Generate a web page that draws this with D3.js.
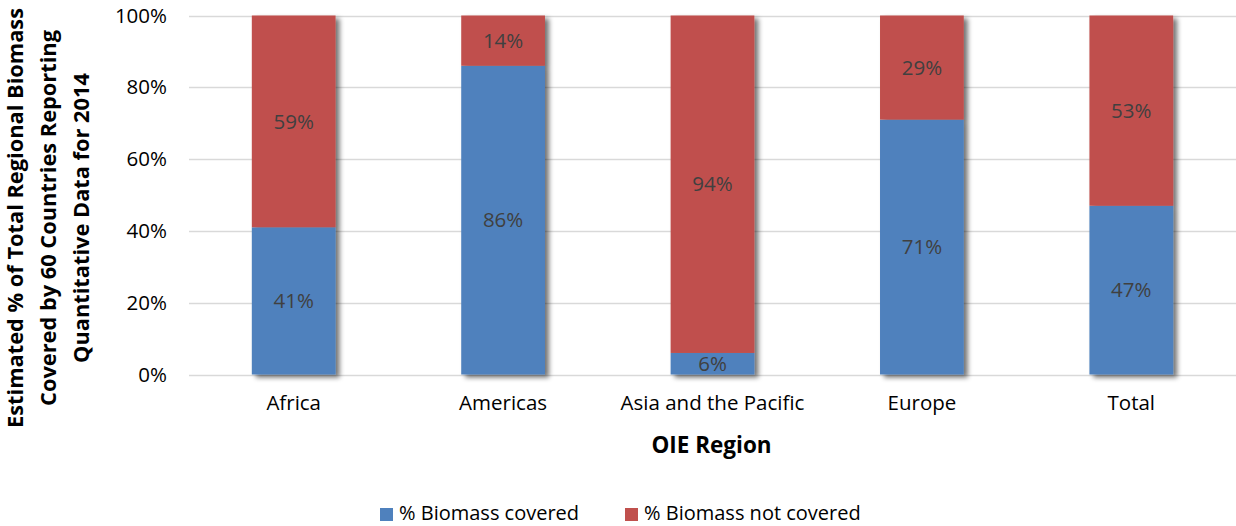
<!DOCTYPE html>
<html>
<head>
<meta charset="utf-8">
<script src="https://cdn.jsdelivr.net/npm/d3@7"></script>
<style>
  html, body { margin: 0; padding: 0; background: #fff; }
  svg { display: block; font-family: "Open Sans", sans-serif; }
</style>
</head>
<body>
<svg id="chart" width="1236" height="526"></svg>
<script>
// Regions and coverage shares (percent)
const regions = ["Africa", "Americas", "Asia and the Pacific", "Europe", "Total"];
const covered = [41, 86, 6, 71, 47];
const notCovered = [59, 14, 94, 29, 53];
const yTicks = [0, 20, 40, 60, 80, 100];
const seriesNames = ["% Biomass covered", "% Biomass not covered"];
const seriesColors = ["#4F81BD", "#C0504D"];
const yTitleLines = ["Estimated % of Total Regional Biomass", "Covered by 60 Countries Reporting", "Quantitative Data for 2014"];

const FONT = "'Open Sans', sans-serif";
const FS = 20.5;
const svg = d3.select("#chart");
const margin = { left: 189, right: 0, top: 15.5, bottom: 151.5 };
const W = 1236, H = 526;

const x = d3.scaleBand().domain(regions).range([margin.left, W - margin.right]).paddingInner(0.6).paddingOuter(0.3);
const y = d3.scaleLinear().domain([0, 100]).range([H - margin.bottom, margin.top]);

// drop shadow for the bars
const defs = svg.append("defs");
const f = defs.append("filter").attr("id", "shadow").attr("x", "-20%").attr("y", "-20%").attr("width", "150%").attr("height", "150%");
f.append("feGaussianBlur").attr("in", "SourceAlpha").attr("stdDeviation", 2.5).attr("result", "blur");
f.append("feOffset").attr("in", "blur").attr("dx", 4).attr("dy", 3).attr("result", "off");
f.append("feComponentTransfer").attr("in", "off").attr("result", "shade")
  .append("feFuncA").attr("type", "linear").attr("slope", 0.55);
const merge = f.append("feMerge");
merge.append("feMergeNode").attr("in", "shade");
merge.append("feMergeNode").attr("in", "SourceGraphic");

// gridlines
svg.append("g").selectAll("line").data(yTicks).join("line")
  .attr("x1", margin.left).attr("x2", W - margin.right)
  .attr("y1", d => Math.round(y(d)) + 0.5).attr("y2", d => Math.round(y(d)) + 0.5)
  .attr("stroke", "#D9D9D9").attr("stroke-width", 1.5);

// y-axis tick labels
const yAxis = d3.axisLeft(y).tickValues(yTicks).tickFormat(d => d + "%").tickSize(0).tickPadding(22);
const gy = svg.append("g").attr("transform", `translate(${margin.left},0)`).call(yAxis);
gy.select(".domain").remove();
gy.selectAll("text").attr("font-size", FS).attr("fill", "#000").style("font-family", FONT);

// stacked bars
const stackData = regions.map((r, i) => ({ region: r, covered: covered[i], notCovered: notCovered[i] }));
const stack = d3.stack().keys(["covered", "notCovered"])(stackData);

const barsG = svg.append("g");
stackData.forEach((d, i) => {
  const g = barsG.append("g").attr("filter", "url(#shadow)");
  stack.forEach((layer, k) => {
    const seg = layer[i];
    g.append("rect")
      .attr("x", x(d.region))
      .attr("width", x.bandwidth())
      .attr("y", y(seg[1]))
      .attr("height", y(seg[0]) - y(seg[1]))
      .attr("fill", seriesColors[k]);
  });
});

// value labels
const labelG = svg.append("g");
stack.forEach((layer, k) => {
  layer.forEach((seg, i) => {
    const v = seg[1] - seg[0];
    labelG.append("text")
      .attr("x", x(regions[i]) + x.bandwidth() / 2)
      .attr("y", (y(seg[0]) + y(seg[1])) / 2)
      .attr("dy", "0.35em")
      .attr("text-anchor", "middle")
      .attr("font-size", FS)
      .attr("fill", "#404040")
      .text(v + "%");
  });
});

// x-axis labels
const xAxis = d3.axisBottom(x).tickSize(0).tickPadding(21);
const gx = svg.append("g").attr("transform", `translate(0,${H - margin.bottom})`).call(xAxis);
gx.select(".domain").remove();
gx.selectAll("text").attr("font-size", FS).attr("fill", "#000").style("font-family", FONT);

// axis titles
svg.append("text")
  .attr("x", (margin.left + W) / 2 - 1).attr("y", 453)
  .attr("text-anchor", "middle").attr("font-size", 22.5).attr("font-weight", "bold")
  .text("OIE Region");

const yt = svg.append("text")
  .attr("transform", "translate(0,218) rotate(-90)")
  .attr("text-anchor", "middle").attr("font-size", 21.8).attr("font-weight", "bold");
yTitleLines.forEach((t, i) => {
  yt.append("tspan").attr("x", 0).attr("y", 23 + i * 33).text(t);
});

// legend
const legend = svg.append("g").attr("transform", "translate(380,513)");
const legX = [0, 245];
seriesNames.forEach((n, i) => {
  const g = legend.append("g").attr("transform", `translate(${legX[i]},0)`);
  g.append("rect").attr("x", 0).attr("y", -5).attr("width", 13).attr("height", 13).attr("fill", seriesColors[i]);
  g.append("text").attr("x", 19).attr("y", 0).attr("dy", "0.35em").attr("font-size", 20).attr("fill", "#000").text(n);
});
</script>
</body>
</html>
